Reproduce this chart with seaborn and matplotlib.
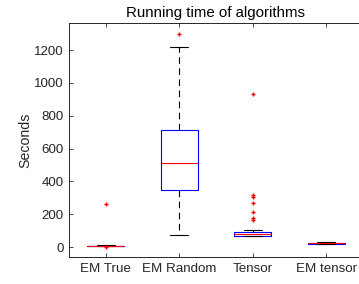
import matplotlib
matplotlib.use("Agg")
import matplotlib.pyplot as plt
import seaborn as sns
import pandas as pd

categories = ["EM True", "EM Random", "Tensor", "EM tensor"]
em_true = [2, 5, 6, 6, 7, 7, 7, 8, 8, 10, 12, 260]
em_random = [75, 200, 350, 430, 510, 600, 715, 1220, 1300]
tensor = [65, 66, 67, 67, 68, 68, 69, 69, 70, 70,
          72, 73, 74, 75, 76, 77, 78, 79, 80,
          81, 82, 84, 85, 86, 87, 88, 89, 90,
          98, 105, 165, 175, 212, 268, 305, 318, 930]
em_tensor = [18, 20, 20, 22, 24, 25, 27, 29, 31]
yticks = [0, 200, 400, 600, 800, 1000, 1200]

series = [em_true, em_random, tensor, em_tensor]
df = pd.DataFrame({
    "alg": [c for c, s in zip(categories, series) for _ in s],
    "sec": [v for s in series for v in s],
})

sns.set_theme(style="ticks")
plt.rcParams["font.family"] = ["Liberation Sans", "DejaVu Sans"]
dark = "#262626"

fig = plt.figure(figsize=(3.59, 2.84), dpi=100)
ax = fig.add_axes([69 / 359, 1 - 257 / 284, (363 - 69) / 359, (257 - 23) / 284])

sns.boxplot(data=df, x="alg", y="sec", order=categories, ax=ax,
            fill=False, width=0.5, whis=1.5, linewidth=0.8,
            boxprops=dict(color="blue"),
            medianprops=dict(color="red"),
            whiskerprops=dict(color="black", linestyle=(0, (6, 4))),
            capprops=dict(color="black"),
            flierprops=dict(marker="+", markeredgecolor="red",
                            markerfacecolor="red", markersize=3.5,
                            markeredgewidth=1.0))

ax.set_xlim(-0.5, 3.5)
ax.set_ylim(-60, 1365)
ax.set_yticks(yticks)
ax.set_yticklabels([str(t) for t in yticks])
ax.set_xlabel("")
ax.set_ylabel("Seconds", fontsize=10.2, color=dark, labelpad=1)
ax.set_title("Running time of algorithms", fontsize=10.8, color="black", pad=4)
ax.tick_params(direction="in", length=3, width=0.6, top=True, right=True,
               labelsize=9.6, colors=dark, pad=4)
for sp in ax.spines.values():
    sp.set_visible(True)
    sp.set_color(dark)
    sp.set_linewidth(0.7)

fig.savefig("out.png", dpi=100)
